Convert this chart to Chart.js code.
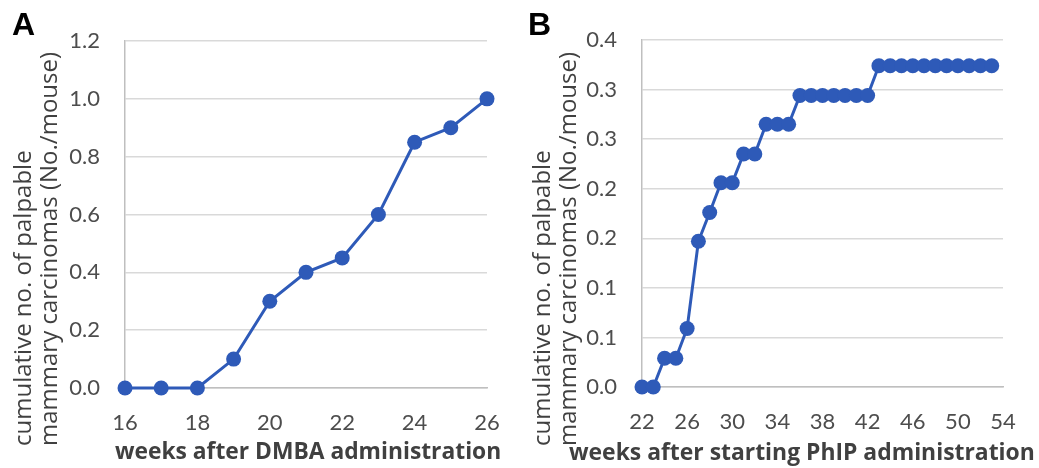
<!DOCTYPE html>
<html>
<head>
<meta charset="utf-8">
<script src="https://cdn.jsdelivr.net/npm/chart.js@4/dist/chart.umd.min.js"></script>
<style>
    html, body { margin: 0; padding: 0; background: #fff; }
    .panel { position: absolute; top: 0; height: 468px; }
    #panelA { left: 0; width: 520px; }
    #panelB { left: 520px; width: 519px; }
</style>
</head>
<body>
<div class="panel" id="panelA"><canvas id="chartA"></canvas></div>
<div class="panel" id="panelB"><canvas id="chartB"></canvas></div>
<script>
const weeksA = [16, 17, 18, 19, 20, 21, 22, 23, 24, 25, 26];
const valuesA = [0, 0, 0, 0.1, 0.3, 0.4, 0.45, 0.6, 0.85, 0.9, 1.0];
const yTicksA = ['0.0', '0.2', '0.4', '0.6', '0.8', '1.0', '1.2'];

const weeksB = [22, 23, 24, 25, 26, 27, 28, 29, 30, 31, 32, 33, 34, 35, 36, 37,
    38, 39, 40, 41, 42, 43, 44, 45, 46, 47, 48, 49, 50, 51, 52, 53];
const valuesB = [0, 0, 0.029, 0.029, 0.059, 0.147, 0.176, 0.206, 0.206, 0.235, 0.235,
    0.265, 0.265, 0.265, 0.294, 0.294, 0.294, 0.294, 0.294, 0.294, 0.294,
    0.324, 0.324, 0.324, 0.324, 0.324, 0.324, 0.324, 0.324, 0.324, 0.324, 0.324];
const yTicksB = ['0.0', '0.1', '0.1', '0.2', '0.2', '0.3', '0.3', '0.4'];

const yTitleLines = ['cumulative no. of palpable', 'mammary carcinomas (No./mouse)'];

const BLUE = '#2E5AB8';
const TICK_COLOR = '#4d4d4d';
const TITLE_COLOR = '#404040';

// panel letter, rotated two-line y title, and x title fitted to its width
const extraText = {
    id: 'extraText',
    afterDraw(chart, args, opts) {
        const ctx = chart.ctx;
        ctx.save();
        ctx.fillStyle = '#000';
        ctx.font = 'bold 32px "Liberation Sans", Arial, sans-serif';
        ctx.textAlign = 'left';
        ctx.textBaseline = 'alphabetic';
        ctx.fillText(opts.letter, opts.letterX, 35);

        // x title
        ctx.fillStyle = TITLE_COLOR;
        ctx.font = 'bold 20px "Open Sans", sans-serif';
        const w = ctx.measureText(opts.xTitle).width;
        const size = 20 * opts.xTitleWidth / w;
        ctx.font = 'bold ' + size.toFixed(1) + 'px "Open Sans", sans-serif';
        ctx.textBaseline = 'middle';
        ctx.fillText(opts.xTitle, opts.xTitleLeft, 453);

        // y title
        ctx.translate(opts.titleX, 446);
        ctx.rotate(-Math.PI / 2);
        ctx.font = '24px "Open Sans", sans-serif';
        ctx.textBaseline = 'middle';
        yTitleLines.forEach((line, i) => ctx.fillText(line, 0, i * 26));
        ctx.restore();
    }
};

function makeChart(canvasId, cfg) {
    const points = cfg.weeks.map((w, i) => ({ x: w, y: cfg.values[i] }));
    return new Chart(document.getElementById(canvasId), {
        type: 'line',
        data: {
            datasets: [{
                data: points,
                borderColor: BLUE,
                backgroundColor: BLUE,
                borderWidth: 3,
                pointRadius: 7.5,
                pointBorderWidth: 0,
                pointBackgroundColor: BLUE,
                tension: 0,
                clip: false
            }]
        },
        options: {
            responsive: true,
            maintainAspectRatio: false,
            animation: false,
            layout: {
                padding: { left: 0, top: cfg.top, right: cfg.right, bottom: 0 }
            },
            plugins: {
                legend: { display: false },
                tooltip: { enabled: false },
                extraText: {
                    letter: cfg.letter, letterX: cfg.letterX, titleX: cfg.titleX,
                    xTitle: cfg.xTitle, xTitleLeft: cfg.xTitleLeft, xTitleWidth: cfg.xTitleWidth
                }
            },
            scales: {
                x: {
                    type: 'linear',
                    min: cfg.xMin,
                    max: cfg.xMax,
                    afterFit: (scale) => { scale.height = cfg.xHeight; },
                    grid: { display: false },
                    border: { display: true, color: '#bfbfbf', width: 1.5 },
                    ticks: {
                        stepSize: cfg.xStep,
                        color: TICK_COLOR,
                        padding: 14,
                        maxRotation: 0,
                        font: { family: 'Lato', size: 22 }
                    }
                },
                y: {
                    type: 'linear',
                    min: 0,
                    max: cfg.yMax,
                    afterFit: (scale) => { scale.width = cfg.yWidth; },
                    grid: { color: '#d9d9d9', lineWidth: 1.5, drawTicks: false },
                    border: { display: true, color: '#bfbfbf', width: 1.5 },
                    ticks: {
                        stepSize: cfg.yStep,
                        color: TICK_COLOR,
                        padding: 25,
                        font: { family: 'Lato', size: 22 },
                        callback: (value, index) => cfg.yTicks[index]
                    }
                }
            }
        },
        plugins: [extraText]
    });
}

makeChart('chartA', {
    weeks: weeksA, values: valuesA, yTicks: yTicksA,
    xMin: 16, xMax: 26, xStep: 2, yMax: 1.2, yStep: 0.2,
    top: 41, right: 33, xHeight: 80, yWidth: 125,
    letter: 'A', letterX: 12, titleX: 24,
    xTitle: 'weeks after DMBA administration', xTitleLeft: 115, xTitleWidth: 387
});

makeChart('chartB', {
    weeks: weeksB, values: valuesB, yTicks: yTicksB,
    xMin: 22, xMax: 54, xStep: 4, yMax: 0.35, yStep: 0.05,
    top: 40, right: 36, xHeight: 81, yWidth: 122,
    letter: 'B', letterX: 8, titleX: 23,
    xTitle: 'weeks after starting PhIP administration', xTitleLeft: 49, xTitleWidth: 466
});
</script>
</body>
</html>
